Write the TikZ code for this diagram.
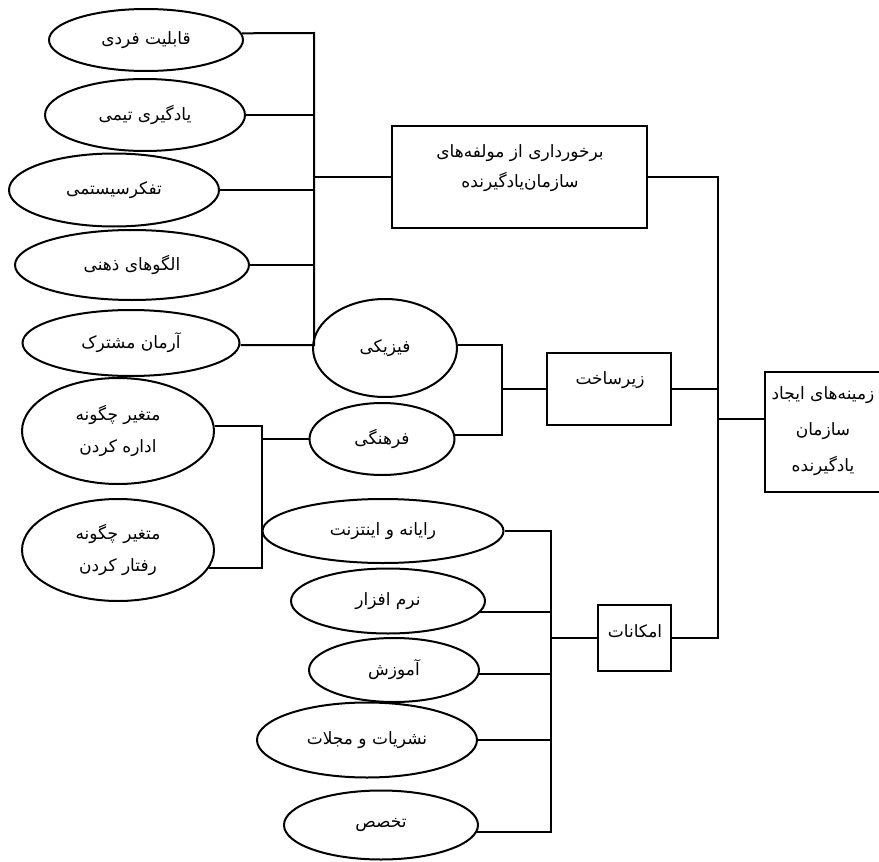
\documentclass[tikz,border=0pt]{standalone}
\usepackage{fontspec}
\newfontfamily\arabicfont[Script=Arabic]{DejaVu Sans}
\TeXXeTstate=1
\usetikzlibrary{shapes.geometric}
\newcommand{\rtltxt}[1]{\beginR #1\endR}
\begin{document}
\begin{tikzpicture}[x=1pt,y=-1pt,line width=2pt,
  ell/.style={ellipse, draw, inner sep=0pt, align=center, font=\arabicfont\fontsize{17}{32}\selectfont},
  bx/.style={rectangle, draw, inner sep=0pt},
  txt/.style={inner sep=0pt, align=center, font=\arabicfont\fontsize{17}{30}\selectfont}]
\useasboundingbox (0,0) rectangle (879,862);
% ellipses, left group
\node[ell, minimum width=194, minimum height=62] (e1) at (146,40) {\rtltxt{قابلیت فردی}};
\node[ell, minimum width=200, minimum height=72] (e2) at (145,115) {\rtltxt{یادگیری تیمی}};
\node[ell, minimum width=210, minimum height=73] (e3) at (114,190) {\rtltxt{تفکرسیستمی}};
\node[ell, minimum width=234, minimum height=70] (e4) at (132,265) {\rtltxt{الگوهای ذهنی}};
\node[ell, minimum width=217, minimum height=66] (e5) at (131,343) {\rtltxt{آرمان مشترک}};
\node[ell, minimum width=192, minimum height=106] (m1) at (118,431) {\rtltxt{متغیر چگونه}\\\rtltxt{اداره کردن}};
\node[ell, minimum width=192, minimum height=102] (m2) at (118,550) {\rtltxt{متغیر چگونه}\\\rtltxt{رفتار کردن}};
% middle ellipses
\node[ell, minimum width=144, minimum height=98] (f1) at (385,348) {\rtltxt{فیزیکی}};
\node[ell, minimum width=145, minimum height=72] (f2) at (382,439) {\rtltxt{فرهنگی}};
\node[ell, minimum width=241, minimum height=64] (r1) at (383,531) {\rtltxt{رایانه و اینتزنت}};
\node[ell, minimum width=194, minimum height=65] (n1) at (388,601) {\rtltxt{نرم افزار}};
\node[ell, minimum width=170, minimum height=64] (a1) at (394,670) {\rtltxt{آموزش}};
\node[ell, minimum width=220, minimum height=75] (n2) at (367,740) {\rtltxt{نشریات و مجلات}};
\node[ell, minimum width=194, minimum height=69] (t1) at (381,825) {\rtltxt{تخصص}};
% boxes
\node[bx, minimum width=255, minimum height=102] (b1) at (519.5,177) {};
\node[txt] (b1t) at (520,168) {\rtltxt{برخورداری از مولفه‌های}\\\rtltxt{سازمان‌یادگیرنده}};
\node[bx, minimum width=124, minimum height=72] (bz) at (609,389) {};
\node[txt] (bzt) at (610,380) {\rtltxt{زیرساخت}};
\node[bx, minimum width=73, minimum height=66] (bm) at (634.5,638) {};
\node[txt] (bmt) at (635,631) {\rtltxt{امکانات}};
\node[bx, minimum width=116, minimum height=120] (bzm) at (823,432) {};
\node[txt, font=\arabicfont\fontsize{17}{36}\selectfont] (bzmt) at (823,431) {\rtltxt{زمینه‌های ایجاد}\\\rtltxt{سازمان}\\\rtltxt{یادگیرنده}};
% bus coordinates
\coordinate (ba1) at (314,33);
\coordinate (ba2) at (314,345);
\coordinate (bbx) at (502,0);
\coordinate (bcx) at (262,0);
\coordinate (bdx) at (551,0);
\coordinate (bex) at (718,0);
\coordinate (bem) at (718,419);
% bus A
\draw (e1.4) -- (ba1) -- (ba2) -- (e5.east |- ba2);
\draw (e2.east) -- (e2.east -| ba1);
\draw (e3.east) -- (e3.east -| ba1);
\draw (e4.east) -- (e4.east -| ba1);
\draw (b1.west) -- (b1.west -| ba1);
% bus B
\draw (f1.2) -- (f1.2 -| bbx) -- (f2.3 -| bbx) -- (f2.3);
\draw (bz.west) -- (bz.west -| bbx);
% bus C
\draw (m1.3) -- (m1.3 -| bcx) -- (m2.-11 -| bcx) -- (m2.-11);
\draw (f2.west) -- (f2.west -| bcx);
% bus D
\draw (r1.east) -- (r1.east -| bdx) -- (t1.-4 -| bdx) -- (t1.-4);
\draw (n1.-7) -- (n1.-7 -| bdx);
\draw (a1.-3) -- (a1.-3 -| bdx);
\draw (n2.east) -- (n2.east -| bdx);
\draw (bm.west) -- (bm.west -| bdx);
% bus E
\draw (b1.east) -- (b1.east -| bex) -- (bm.east -| bex) -- (bm.east);
\draw (bz.east) -- (bz.east -| bex);
\draw (bem) -- (bem -| bzm.west);
\end{tikzpicture}
\end{document}
